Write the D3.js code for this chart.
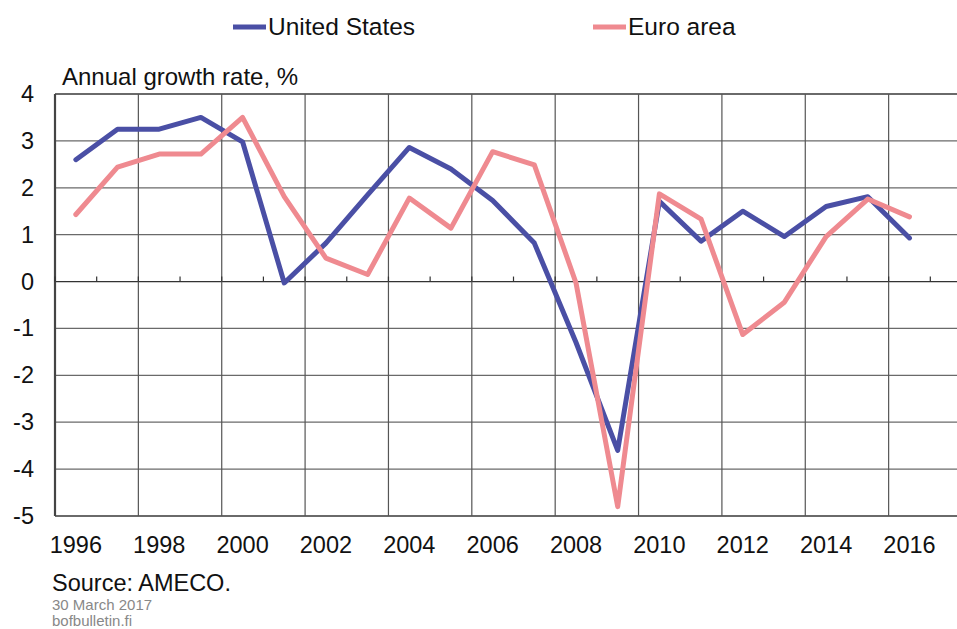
<!DOCTYPE html>
<html>
<head>
<meta charset="utf-8">
<script src="https://cdn.jsdelivr.net/npm/d3@7"></script>
<style>
  html, body { margin: 0; padding: 0; background: #fff; }
  svg { display: block; font-family: "Liberation Sans", Arial, sans-serif; }
</style>
</head>
<body>
<svg id="chart" width="957" height="629"></svg>
<script>
const years = [1996,1997,1998,1999,2000,2001,2002,2003,2004,2005,2006,2007,2008,2009,2010,2011,2012,2013,2014,2015,2016];
const usGrowth = [2.6,3.25,3.25,3.5,2.98,-0.03,0.82,1.85,2.86,2.40,1.73,0.82,-1.3,-3.6,1.71,0.86,1.50,0.96,1.60,1.81,0.93];
const euroGrowth = [1.43,2.44,2.72,2.72,3.5,1.81,0.50,0.15,1.78,1.14,2.77,2.49,-0.03,-4.8,1.87,1.33,-1.13,-0.44,0.96,1.76,1.38];
const yTicks = [4,3,2,1,0,-1,-2,-3,-4,-5];
const xTickLabels = [1996,1998,2000,2002,2004,2006,2008,2010,2012,2014,2016];
const seriesNames = ["United States","Euro area"];
const seriesColors = ["#4a4fa5","#ef8a90"];

const svg = d3.select("#chart");
const pLeft = 55, pRight = 972, pTop = 94, pBottom = 516;

const x = d3.scaleLinear().domain([1995.5, 2017.5]).range([pLeft, pRight]);
const y = d3.scaleLinear().domain([-5, 4]).range([pBottom, pTop]);

const g = svg.append("g");

// horizontal gridlines
g.selectAll("line.hgrid").data(yTicks).enter().append("line")
  .attr("x1", pLeft).attr("x2", pRight)
  .attr("y1", d => y(d)).attr("y2", d => y(d))
  .attr("stroke", d => d === 0 ? "#333" : "#6a6a6a")
  .attr("stroke-width", d => (d === 4 || d === -5) ? 2.2 : 1.3);

// vertical gridlines at every 2nd category boundary
const vBounds = d3.range(1995.5, 2018, 2);
g.selectAll("line.vgrid").data(vBounds).enter().append("line")
  .attr("x1", d => x(d)).attr("x2", d => x(d))
  .attr("y1", pTop).attr("y2", pBottom)
  .attr("stroke", d => d === 1995.5 ? "#444" : "#555")
  .attr("stroke-width", d => d === 1995.5 ? 2.2 : 1.2);

// small ticks on zero axis at each category boundary
const allBounds = d3.range(1995.5, 2018, 1);
g.selectAll("line.tick0").data(allBounds).enter().append("line")
  .attr("x1", d => x(d)).attr("x2", d => x(d))
  .attr("y1", y(0) - 5).attr("y2", y(0))
  .attr("stroke", "#333").attr("stroke-width", 1.2);

// y labels
g.selectAll("text.ylab").data(yTicks).enter().append("text")
  .attr("x", 34).attr("y", d => y(d) + 8)
  .attr("text-anchor", "end")
  .attr("font-size", 23.5).attr("fill", "#111")
  .text(d => d);

// x labels
g.selectAll("text.xlab").data(xTickLabels).enter().append("text")
  .attr("x", d => x(d)).attr("y", 553)
  .attr("text-anchor", "middle")
  .attr("font-size", 23.5).attr("fill", "#111")
  .text(d => d);

// lines
const line = d3.line().x(d => x(d[0])).y(d => y(d[1]));
const seriesData = [usGrowth, euroGrowth];
seriesData.forEach((vals, i) => {
  g.append("path")
    .datum(years.map((yr, j) => [yr, vals[j]]))
    .attr("d", line)
    .attr("fill", "none")
    .attr("stroke", seriesColors[i])
    .attr("stroke-width", 5)
    .attr("stroke-linejoin", "round")
    .attr("stroke-linecap", "round");
});

// axis title
svg.append("text").attr("x", 62).attr("y", 85)
  .attr("font-size", 24).attr("fill", "#111")
  .text("Annual growth rate, %");

// legend
const legendX = [233, 593];
seriesNames.forEach((name, i) => {
  svg.append("line")
    .attr("x1", legendX[i]).attr("x2", legendX[i] + 33)
    .attr("y1", 27).attr("y2", 27)
    .attr("stroke", seriesColors[i]).attr("stroke-width", 5);
  svg.append("text")
    .attr("x", legendX[i] + 35).attr("y", 35)
    .attr("font-size", 24.5).attr("fill", "#111")
    .text(name);
});

// source & footer
svg.append("text").attr("x", 52).attr("y", 591)
  .attr("font-size", 23.5).attr("fill", "#111").text("Source: AMECO.");
svg.append("text").attr("x", 52).attr("y", 610)
  .attr("font-size", 15).attr("fill", "#888").text("30 March 2017");
svg.append("text").attr("x", 52).attr("y", 626)
  .attr("font-size", 15).attr("fill", "#888").text("bofbulletin.fi");
</script>
</body>
</html>
